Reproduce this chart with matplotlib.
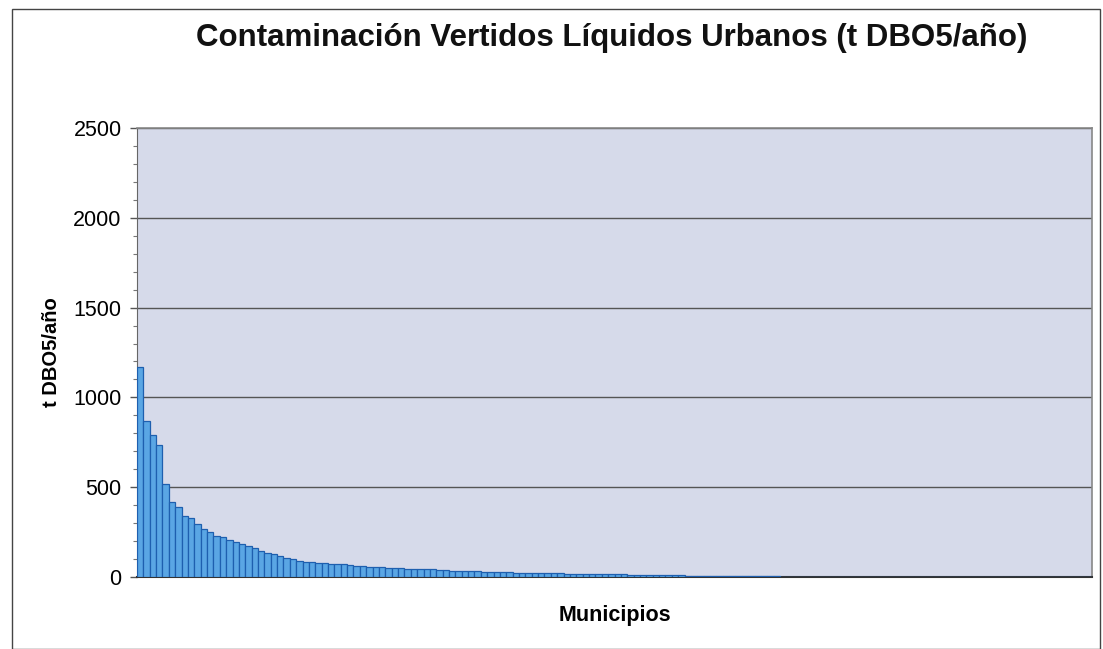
import matplotlib
matplotlib.use("Agg")
import matplotlib.pyplot as plt
from matplotlib.patches import Rectangle
from matplotlib.ticker import MultipleLocator

plt.rcParams['font.family'] = ['Liberation Sans', 'DejaVu Sans']

title = "Contaminación Vertidos Líquidos Urbanos (t DBO5/año)"
y_label = "t DBO5/año"
x_label = "Municipios"
y_ticks = [0, 500, 1000, 1500, 2000, 2500]

# t DBO5/año per municipality, sorted descending
valores = [
    1170, 870, 790, 735, 520, 418, 390, 340, 328, 295,
    267, 250, 228, 223, 206, 195, 184, 173, 160, 145,
    135, 128, 115, 105, 98, 90, 86, 82, 79, 77,
    74, 72, 70, 67, 64, 60, 58, 55, 53, 51,
    50, 49, 47, 46, 45, 44, 42, 40, 38, 36,
    34, 33, 32, 31, 30, 29, 28, 27, 26, 24,
    23, 22, 22, 21, 21, 20, 20, 19, 18, 18,
    17, 17, 16, 15, 15, 14, 14, 13, 13, 12,
    12, 11, 10, 10, 9, 9, 8, 8, 7.5, 7,
    6.5, 6, 5.5, 5, 5, 4.5, 4, 4, 3.5, 3,
    3, 2.5, 2.4, 2.3, 2.2, 2.1, 2.0, 2.0, 1.9, 1.8,
    1.8, 1.7, 1.6, 1.6, 1.5, 1.5, 1.4, 1.4, 1.3, 1.3,
    1.2, 1.2, 1.1, 1.1, 1.0, 1.0, 0.9, 0.9, 0.9, 0.8,
    0.8, 0.8, 0.7, 0.7, 0.7, 0.6, 0.6, 0.6, 0.5, 0.5,
    0.5, 0.5, 0.4, 0.4, 0.4, 0.4, 0.3, 0.3, 0.3, 0.3,
]

W, H = 1103, 649
fig = plt.figure(figsize=(W / 100, H / 100), dpi=100)
fig.patch.set_facecolor('white')

# outer frame of the chart object
fig.add_artist(Rectangle((12 / W, 0), (1100 - 12) / W, 1 - 9 / H,
                         transform=fig.transFigure, fill=False,
                         edgecolor='#444444', linewidth=1.0))

left, right, top, bottom = 137, 1092, 128, 577
ax = fig.add_axes([left / W, 1 - bottom / H, (right - left) / W, (bottom - top) / H])
ax.set_facecolor('#D6DAEA')

x = list(range(len(valores)))
ax.bar(x, valores, width=1.0, color='#5AA6E4', edgecolor='#1E5FAF',
       linewidth=0.9, zorder=3)

ax.set_xlim(-0.5, len(valores) - 0.5)
ax.set_ylim(0, 2500)
ax.set_yticks(y_ticks)
ax.set_yticklabels([str(t) for t in y_ticks], fontsize=15.5)
ax.yaxis.set_minor_locator(MultipleLocator(100))
ax.tick_params(axis='y', which='major', length=5, width=1, color='#555555', pad=6)
ax.tick_params(axis='y', which='minor', length=3, width=0.8, color='#777777')
ax.set_xticks([])
ax.grid(axis='y', which='major', color='#555555', linewidth=1.0, zorder=1)

for s in ['top', 'right']:
    ax.spines[s].set_color('#888888')
    ax.spines[s].set_linewidth(1.2)
ax.spines['left'].set_color('#666666')
ax.spines['bottom'].set_color('#333333')
ax.spines['bottom'].set_linewidth(1.5)

ax.set_ylabel(y_label, fontsize=14.5, fontweight='bold', labelpad=9)
ax.set_xlabel(x_label, fontsize=15.5, fontweight='bold', labelpad=20)

fig.text(612 / W, 1 - 38 / H, title, ha='center', va='center',
         fontsize=22.5, fontweight='bold', color='#111111')

fig.savefig('out.png', dpi=100)
